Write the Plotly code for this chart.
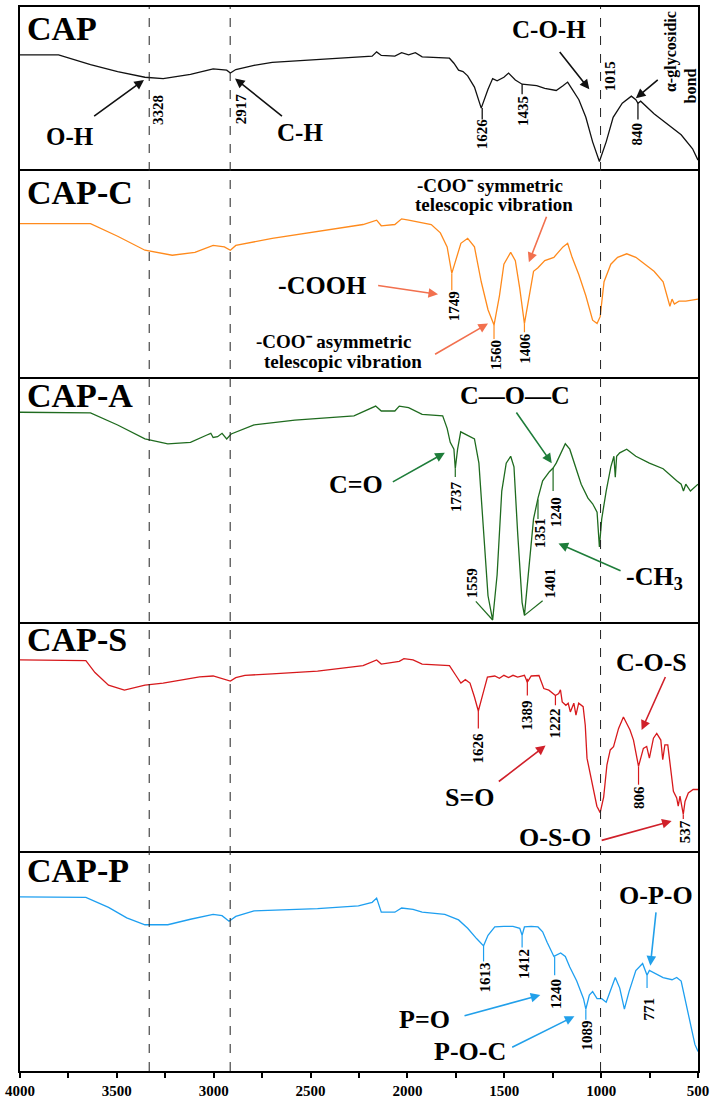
import plotly.graph_objects as go
from plotly.subplots import make_subplots

# ---------------- data (wavenumber in cm-1, transmittance in a.u. per panel) ----------------
cap_wn = [4000,3801,3636,3496,3355,3261,3120,3003,2933,2914,2886,2792,2698,2464,2276,2182,2159,2135,2065,2030,
          1994,1959,1924,1783,1760,1736,1713,1689,1654,1619,1584,1560,1537,1502,1478,1443,1408,1333,1291,1232,
          1197,1173,1150,1115,1079,1044,1009,974,938,891,844,821,810,796,727,657,587,528,500]
cap_t = [70.4,70.4,64.3,60.0,56.5,55.7,58.3,61.7,60.9,59.1,61.3,63.9,65.7,67.4,68.7,69.6,72.2,70.0,69.6,71.7,
         70.4,71.7,69.1,68.3,65.2,60.9,60.0,57.4,50.4,37.4,49.1,55.7,54.3,56.5,59.1,54.8,52.2,51.3,49.6,48.3,
         51.3,53.5,49.1,42.6,31.7,16.5,4.3,16.5,31.7,40.4,44.8,42.6,40.4,41.7,33.9,27.4,20.9,12.2,5.2]

capc_wn = [4000,3636,3496,3355,3214,3097,3003,2945,2914,2886,2698,2464,2229,2159,2135,2065,2030,1994,1924,1877,
           1830,1795,1771,1748,1724,1689,1654,1619,1584,1553,1525,1502,1467,1443,1420,1396,1373,1349,1326,1291,
           1244,1197,1173,1150,1115,1079,1044,1021,1005,985,950,915,868,821,774,727,680,645,634,622,598,563,500]
capc_t = [73.6,73.6,67.6,60.9,58.5,59.9,63.2,62.5,60.9,63.2,66.6,69.9,73.2,75.3,72.6,73.2,75.9,75.3,74.2,73.2,
          69.2,62.5,49.8,57.5,64.2,66.6,62.5,45.8,32.4,25.1,39.1,54.2,59.9,55.9,42.5,25.8,39.1,50.8,52.5,55.9,
          57.5,62.5,64.2,57.5,49.2,39.1,27.4,25.8,29.1,45.8,54.2,57.5,59.2,57.5,54.2,50.8,45.8,34.1,37.5,35.1,36.5,36.5,37.5]

capa_wn = [4000,3636,3496,3355,3237,3120,3038,3015,3003,2980,2957,2933,2910,2792,2581,2276,2164,2135,2065,2042,
           1994,1924,1818,1795,1779,1760,1753,1741,1725,1689,1654,1631,1607,1584,1560,1537,1513,1490,1467,1450,
           1431,1408,1396,1373,1349,1326,1302,1267,1248,1232,1209,1185,1162,1138,1103,1068,1044,1021,1009,997,
           974,950,934,927,920,904,868,821,751,680,634,610,587,575,563,539,500]
capa_t = [85.8,85.5,80.6,74.9,72.9,73.5,76.4,77.2,75.5,75.8,77.2,74.9,76.9,80.6,82.6,84.3,88.3,86.3,86.3,88.3,
          87.7,84.9,84.3,79.2,73.5,70.7,62.7,70.7,77.8,76.4,74.9,65.0,39.3,10.8,0.9,19.4,53.6,65.0,67.8,63.5,
          36.5,8.0,2.8,22.2,42.2,50.7,57.8,61.5,63.0,65.0,69.2,72.9,70.7,65.0,56.4,50.7,48.4,45.0,30.8,42.2,
          53.6,63.5,67.8,59.3,67.8,69.2,70.7,67.8,65.0,62.7,59.3,57.8,56.4,53.6,56.4,53.6,56.4]

caps_wn = [4000,3660,3613,3543,3461,3355,3261,3167,3073,3003,2957,2914,2886,2839,2698,2464,2229,2159,2135,2042,
           2018,1971,1924,1783,1748,1724,1701,1677,1654,1634,1610,1587,1549,1525,1502,1478,1455,1431,1396,1381,
           1361,1321,1296,1270,1236,1219,1210,1201,1182,1170,1159,1141,1130,1116,1093,1082,1073,1047,1022,1005,
           987,970,953,936,910,885,851,833,807,782,765,751,730,713,692,682,671,656,641,627,
           610,602,593,576,567,550,525,500]
caps_t = [83.5,83.2,78.0,72.5,70.3,72.5,73.4,74.9,76.1,76.5,75.5,74.3,75.8,76.8,77.4,78.6,81.0,83.5,81.7,82.9,
          84.1,83.5,81.7,81.0,76.5,73.4,74.9,73.4,67.3,61.2,68.8,76.0,76.5,75.5,76.8,75.8,76.8,76.0,76.8,73.8,
          76.5,76.7,71.0,70.3,68.0,68.8,70.5,65.2,63.7,64.6,60.8,64.6,59.4,64.6,63.1,55.0,40.6,30.5,19.6,16.8,
          23.6,37.7,44.2,45.6,53.6,58.6,52.9,48.5,37.0,44.9,45.7,40.6,49.3,51.4,48.5,39.9,46.4,46.4,34.8,26.1,
          23.2,19.6,24.0,16.0,21.7,25.4,26.9,26.9]

capp_wn = [4000,3660,3543,3449,3355,3237,3120,3003,2957,2921,2886,2792,2464,2253,2182,2159,2135,2065,2030,1971,
           1924,1807,1736,1689,1642,1607,1584,1549,1502,1455,1420,1408,1396,1361,1326,1302,1279,1244,1209,1185,
           1162,1126,1091,1079,1061,1044,1021,997,974,950,927,904,880,856,821,786,763,751,727,680,
           634,610,587,563,539,516,500]
capp_t = [79.2,78.9,74.4,69.6,66.5,66.5,69.0,71.2,70.6,68.1,70.3,72.8,73.8,75.1,76.7,78.6,72.2,72.2,74.1,73.5,
          72.2,71.2,68.7,64.9,60.1,56.9,61.7,65.5,65.8,65.8,64.9,61.7,65.5,65.8,65.5,63.3,58.5,52.1,53.7,52.1,
          47.3,40.9,32.9,28.1,34.5,36.1,32.9,32.9,31.3,37.1,42.5,37.7,28.1,36.1,45.7,48.9,43.5,45.7,44.7,42.5,
          41.5,42.5,40.9,31.3,21.7,12.1,8.9]

sample_names = ["CAP", "CAP-C", "CAP-A", "CAP-S", "CAP-P"]
ref_lines = [3333, 2915, 1003]
tick_vals = [4000, 3500, 3000, 2500, 2000, 1500, 1000, 500]
tick_text = ["4000", "3500", "3000", "2500", "2000", "1500", "1000", "500"]

# ---------------- figure ----------------
FONT = "Liberation Serif"
colors = ["#111111", "#ff8a1c", "#1f6b1f", "#d7191c", "#1e9ff0"]
arrow_colors = ["#111111", "#f2704e", "#1e7d3a", "#d0202a", "#22a0ea"]
series = [(cap_wn, cap_t), (capc_wn, capc_t), (capa_wn, capa_t), (caps_wn, caps_t), (capp_wn, capp_t)]
domains = [[0.8482, 1.0], [0.6518, 0.8482], [0.4218, 0.6518], [0.2067, 0.4218], [0.0, 0.2067]]

fig = make_subplots(rows=5, cols=1, shared_xaxes=True, vertical_spacing=0)
for i, (wn, t) in enumerate(series):
    fig.add_trace(go.Scatter(x=wn, y=t, mode="lines", line=dict(color=colors[i], width=1.3),
                             showlegend=False, hoverinfo="skip"), row=i + 1, col=1)

for i in range(5):
    s = "" if i == 0 else str(i + 1)
    fig.layout["yaxis" + s].update(domain=domains[i], range=[0, 100], showline=True, mirror=True,
                                   linecolor="black", linewidth=1.8, showticklabels=False, ticks="",
                                   showgrid=False, zeroline=False)
    # only the bottom line of each panel; the top panel also mirrors it to the top edge
    xa = dict(range=[4000, 500], showline=True, mirror=(i == 0), linecolor="black", linewidth=2,
              showgrid=False, zeroline=False)
    if i == 4:
        xa.update(showticklabels=True, ticks="outside", ticklen=5, tickwidth=1.5, tickcolor="black",
                  tickvals=tick_vals, ticktext=["<b>%s</b>" % t for t in tick_text],
                  tickfont=dict(family=FONT, size=15, color="black"),
                  minor=dict(dtick=250, tick0=500, ticks="outside", ticklen=5, tickwidth=1.5, tickcolor="black"))
    else:
        xa.update(showticklabels=False, ticks="")
    fig.layout["xaxis" + s].update(**xa)

for xv in ref_lines:
    fig.add_shape(type="line", xref="x", yref="paper", x0=xv, x1=xv, y0=0, y1=1,
                  line=dict(color="#222222", width=1, dash="dash"))


def refs(row):
    s = "" if row == 1 else str(row)
    return "x" + s, "y" + s


def txt(row, x, y, text, size, color="black", angle=0, xanchor="center"):
    xr, yr = refs(row)
    fig.add_annotation(xref=xr, yref=yr, x=x, y=y, text="<b>%s</b>" % text, showarrow=False,
                       font=dict(family=FONT, size=size, color=color), textangle=angle,
                       xanchor=xanchor, yanchor="middle")


def arrow(row, x0, y0, x1, y1, color):
    xr, yr = refs(row)
    fig.add_annotation(xref=xr, yref=yr, axref=xr, ayref=yr, x=x1, y=y1, ax=x0, ay=y0, text="",
                       showarrow=True, arrowhead=2, arrowsize=1.2, arrowwidth=1.6, arrowcolor=color)


def seg(row, x0, y0, x1, y1, color):
    xr, yr = refs(row)
    fig.add_shape(type="line", xref=xr, yref=yr, x0=x0, y0=y0, x1=x1, y1=y1,
                  line=dict(color=color, width=1.2))


def peak(row, x, y0, y1, label, ly, lx=None, color="black"):
    seg(row, x, y0, x, y1, color)
    txt(row, x if lx is None else lx, ly, label, 15, "black", -90)


# titles
title_y = [87, 88.6, 92.6, 92.4, 91]
for i, name in enumerate(sample_names):
    txt(i + 1, 3972, title_y[i], name, 34, "black", 0, "left")

# ---- CAP
c = arrow_colors[0]
txt(1, 3742, 20, "O-H", 25)
arrow(1, 3625, 31.7, 3360, 54.8, c)
txt(1, 2557, 22, "C-H", 25)
arrow(1, 2640, 31.7, 2890, 55.7, c)
txt(1, 1267, 86, "C-O-H", 25)
arrow(1, 1220, 73, 1061, 49, c)
txt(1, 636, 72.5, "α-glycosidic", 16, "black", -90)
txt(1, 540, 51, "bond", 16, "black", -90)
arrow(1, 700, 55.7, 821, 43.5, c)
txt(1, 3285, 36, "3328", 15, "black", -90)
txt(1, 2862, 37, "2917", 15, "black", -90)
txt(1, 950, 57, "1015", 15, "black", -90)
peak(1, 1614, 37.4, 30.4, "1626", 21.3)
peak(1, 1408, 52.2, 46, "1435", 35.7, 1403)
peak(1, 810, 40.4, 30.4, "840", 21.7)

# ---- CAP-C
c = arrow_colors[1]
txt(2, 1575, 92, "-COO⁻ symmetric", 19)
txt(2, 1553, 82.6, "telescopic vibration", 19)
arrow(2, 1279, 77.6, 1373, 55.2, c)
txt(2, 2440, 44, "-COOH", 26)
arrow(2, 2159, 44.1, 1842, 39.8, c)
txt(2, 2380, 17, "-COO⁻ asymmetric", 19)
txt(2, 2334, 7.5, "telescopic vibration", 19)
arrow(2, 1865, 10.7, 1584, 25.8, c)
peak(2, 1771, 49.8, 41.8, "1749", 34.1, 1760, colors[1])
peak(2, 1553, 25.1, 18.4, "1560", 10.7, 1544, colors[1])
peak(2, 1396, 25.8, 21.7, "1406", 14.0, 1391, colors[1])

# ---- CAP-A
c = arrow_colors[2]
txt(3, 1443, 92.6, "C—O—C", 26)
arrow(3, 1443, 86.3, 1255, 65, c)
txt(3, 2264, 56.4, "C=O", 26)
arrow(3, 2083, 57, 1807, 69.2, c)
txt(3, 727, 18, "-CH<sub>3</sub>", 26)
arrow(3, 892, 20.8, 1220, 32.2, c)
peak(3, 1753, 62.7, 59.3, "1737", 51.3, None, colors[2])
peak(3, 1326, 50.1, 42.2, "1351", 36.5, 1314, colors[2])
peak(3, 1248, 63.0, 53.6, "1240", 45.0, 1232, colors[2])
txt(3, 1666, 16, "1559", 15, "black", -90)
seg(3, 1647, 8.5, 1560, 0.9, colors[2])
txt(3, 1262, 16, "1401", 15, "black", -90)
seg(3, 1396, 2.8, 1302, 8.8, colors[2])

# ---- CAP-S
c = arrow_colors[3]
txt(4, 739, 82.5, "C-O-S", 26)
arrow(4, 665, 76.7, 791, 52.9, c)
txt(4, 1678, 23.5, "S=O", 26)
arrow(4, 1536, 29.9, 1287, 46.1, c)
txt(4, 1237, 6.1, "O-S-O", 26)
arrow(4, 1005, 4.5, 636, 13.1, c)
peak(4, 1634, 61.2, 53.5, "1626", 45.0, None, colors[3])
peak(4, 1381, 75.3, 68.0, "1389", 59.4, None, colors[3])
peak(4, 1236, 68.0, 63.7, "1222", 55.9, None, colors[3])
peak(4, 807, 37.0, 29.0, "806", 23.4, None, colors[3])
peak(4, 576, 16.0, 14.0, "537", 8.2, 567, colors[3])

# ---- CAP-P
c = arrow_colors[4]
txt(5, 716, 79.9, "O-P-O", 26)
arrow(5, 716, 72.8, 746, 47.9, c)
txt(5, 1912, 23.3, "P=O", 26)
arrow(5, 1713, 24.9, 1314, 34.5, c)
txt(5, 1678, 8.9, "P-O-C", 26)
arrow(5, 1467, 10.5, 1138, 24.9, c)
peak(5, 1607, 56.9, 49.8, "1613", 42.5, 1600, colors[4])
peak(5, 1408, 61.7, 56.2, "1412", 48.9, 1396, colors[4])
peak(5, 1240, 52.1, 43.5, "1240", 35.1, 1232, colors[4])
peak(5, 1079, 28.1, 23.3, "1089", 16.0, 1075, colors[4])
peak(5, 763, 43.5, 37.7, "771", 28.1, 751, colors[4])

fig.update_layout(width=714, height=1104, margin=dict(l=20, r=12, t=5, b=25),
                  paper_bgcolor="white", plot_bgcolor="white", showlegend=False)
fig.write_html("out.html")
